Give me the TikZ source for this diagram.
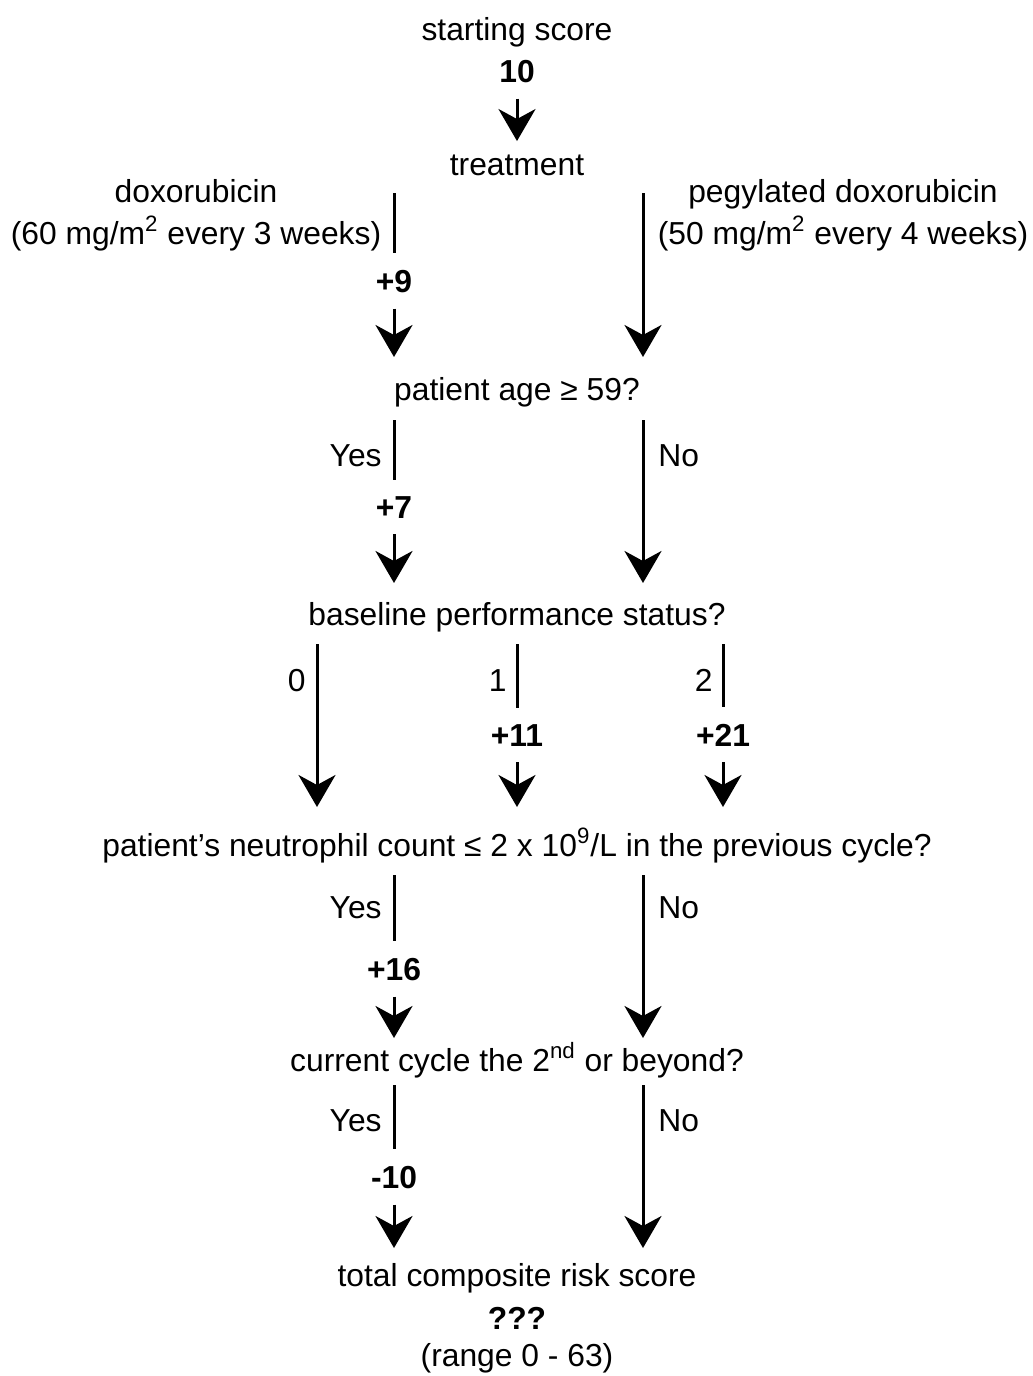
\documentclass[tikz,border=0pt]{standalone}
\usepackage{fontspec}
\setmainfont{Liberation Sans}
\usepackage{tikz}
\usetikzlibrary{arrows.meta}
\newcommand{\fsz}{\fontsize{15.9}{19}\selectfont}

\begin{document}
\begin{tikzpicture}[x=0.5pt, y=-0.5pt,
    txt/.style={anchor=base, inner sep=0pt, font=\fsz},
    val/.style={anchor=base, inner xsep=0pt, inner ysep=8pt,
                font=\fsz\bfseries},
    seg/.style={line width=1.5pt},
    arr/.style={seg, -{Stealth[length=16pt, width=18.5pt, inset=5pt]}}
  ]
  \useasboundingbox (0,0) rectangle (1033,1376);

  \node[txt] (start) at (517,40) {starting score};
  \node[val] (ten)   at (517,82) {10};
  \node[txt] (treat) at (517,175) {treatment};
  \draw[arr, shorten >=6.5pt] (ten) -- (treat);

  \node[txt] (dox)     at (196,202) {doxorubicin};
  \node[txt] (doxdose) at (196,244) {(60 mg/m\textsuperscript{2} every 3 weeks)};
  \node[txt] (peg)     at (843,202) {pegylated doxorubicin};
  \node[txt] (pegdose) at (843,244) {(50 mg/m\textsuperscript{2} every 4 weeks)};
  \node[txt] (age)     at (517,400) {patient age ≥ 59?};
  \node[txt] (perf)    at (517,625) {baseline performance status?};
  \node[txt] (neutro)  at (517,856) {patient’s neutrophil count ≤ 2 x 10\textsuperscript{9}/L in the previous cycle?};
  \node[txt] (cycle)   at (517,1071) {current cycle the 2\textsuperscript{nd} or beyond?};
  \node[txt] (total)   at (517,1286) {total composite risk score};
  \node[val] (qmarks)  at (517,1329) {???};
  \node[txt] (range)   at (517,1366) {(range 0 - 63)};

  % treatment branches
  \coordinate (doxTop) at (394,193);  \coordinate (doxTip) at (394,357);
  \coordinate (pegTop) at (643,193);  \coordinate (pegTip) at (643,357);
  \node[val] (plusDox) at (394,292) {+9};
  \draw[seg] (doxTop) -- (plusDox);
  \draw[arr] (plusDox) -- (doxTip);
  \draw[arr] (pegTop) -- (pegTip);

  % age branches
  \coordinate (oldTop) at (394,420);   \coordinate (oldTip) at (394,583);
  \coordinate (youngTop) at (643,420); \coordinate (youngTip) at (643,583);
  \node[val] (plusAge) at (394,518) {+7};
  \node[txt, anchor=base east] (ageYes) at (382,466) {Yes};
  \node[txt, anchor=base west] (ageNo)  at (658,466) {No};
  \draw[seg] (oldTop) -- (plusAge);
  \draw[arr] (plusAge) -- (oldTip);
  \draw[arr] (youngTop) -- (youngTip);

  % performance status branches
  \coordinate (ps0Top) at (317,644); \coordinate (ps0Tip) at (317,807);
  \coordinate (ps1Top) at (517,644); \coordinate (ps1Tip) at (517,807);
  \coordinate (ps2Top) at (723,644); \coordinate (ps2Tip) at (723,807);
  \node[txt, anchor=base east] (ps0) at (306,691) {0};
  \node[txt, anchor=base east] (ps1) at (507,691) {1};
  \node[txt, anchor=base east] (ps2) at (713,691) {2};
  \node[val] (plusPs1) at (517,746) {+11};
  \node[val] (plusPs2) at (723,746) {+21};
  \draw[arr] (ps0Top) -- (ps0Tip);
  \draw[seg] (ps1Top) -- (plusPs1);
  \draw[arr] (plusPs1) -- (ps1Tip);
  \draw[seg] (ps2Top) -- (plusPs2);
  \draw[arr] (plusPs2) -- (ps2Tip);

  % neutrophil branches
  \coordinate (lowTop) at (394,875);  \coordinate (lowTip) at (394,1038);
  \coordinate (highTop) at (643,875); \coordinate (highTip) at (643,1038);
  \node[val] (plusNeu) at (394,980) {+16};
  \node[txt, anchor=base east] (neuYes) at (382,918) {Yes};
  \node[txt, anchor=base west] (neuNo)  at (658,918) {No};
  \draw[seg] (lowTop) -- (plusNeu);
  \draw[arr] (plusNeu) -- (lowTip);
  \draw[arr] (highTop) -- (highTip);

  % cycle branches
  \coordinate (laterTop) at (394,1085); \coordinate (laterTip) at (394,1248);
  \coordinate (firstTop) at (643,1085); \coordinate (firstTip) at (643,1248);
  \node[val] (minusCyc) at (394,1188) {-10};
  \node[txt, anchor=base east] (cycYes) at (382,1131) {Yes};
  \node[txt, anchor=base west] (cycNo)  at (658,1131) {No};
  \draw[seg] (laterTop) -- (minusCyc);
  \draw[arr] (minusCyc) -- (laterTip);
  \draw[arr] (firstTop) -- (firstTip);
\end{tikzpicture}
\end{document}
